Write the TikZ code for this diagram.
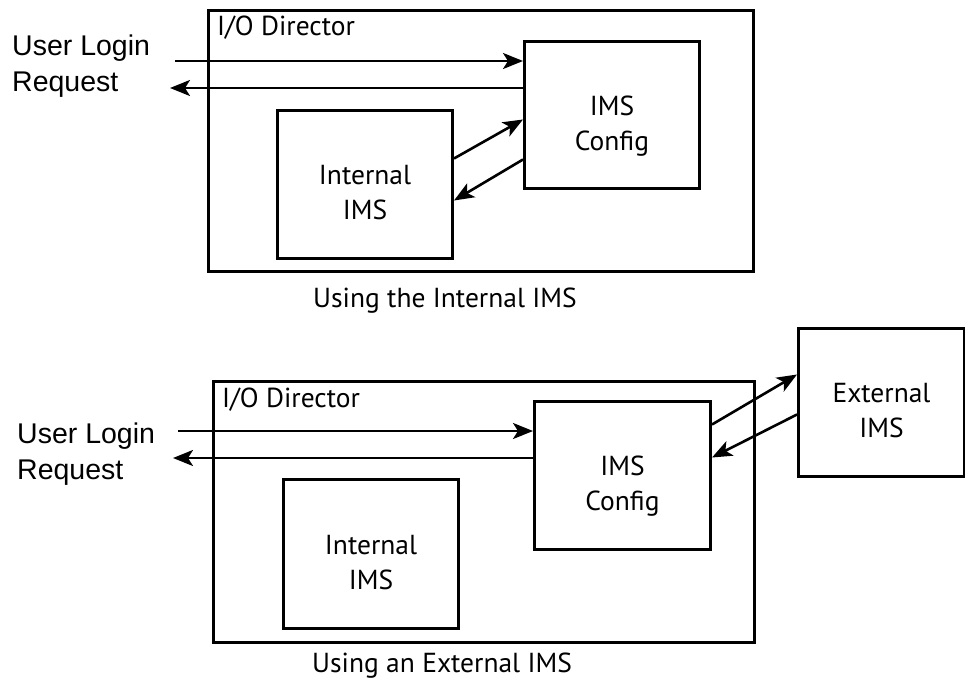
\documentclass[tikz,border=0pt]{standalone}
\usepackage{fontspec}
\setmainfont{PT Sans}
\newfontfamily\arialfont{Liberation Sans}
\usetikzlibrary{arrows.meta}

\begin{document}
\begin{tikzpicture}[x=1pt,y=-1pt,
  box/.style={draw, line width=3pt, rectangle, inner sep=0pt, anchor=north west,
    align=center, text height=80pt, text depth=10pt,
    font=\fontsize{27.5}{35}\selectfont},
  arr/.style={line width=2.6pt, -{Stealth[length=20pt,width=16pt,inset=5pt]}},
  lbl/.style={inner sep=0pt, anchor=base west, font=\fontsize{27.5}{35}\selectfont},
  userlbl/.style={inner sep=0pt, anchor=north west, align=left,
    font=\arialfont\fontsize{28.5}{36}\selectfont}]

\useasboundingbox (0,0) rectangle (965,680);

% ---- internal IMS setup ----
\node[box, minimum width=545pt, minimum height=261pt] (dirA) at (207,9) {};
\node[box, minimum width=175pt, minimum height=147pt] (cfgA) at (523,40) {IMS\\Config};
\node[box, minimum width=175pt, minimum height=148pt] (intA) at (276,109) {Internal\\IMS};
\node[lbl] (dirAlbl) at (217,35) {I/O Director};
\node[userlbl] (userA) at (12,35) {User Login\\Request};
\coordinate (inA) at (175,61);
\coordinate (outA) at (170,88);

\draw[arr] (inA) -- (inA -| cfgA.west);
\draw[arr] (outA -| cfgA.west) -- (outA);
\draw[arr] ([yshift=26pt]intA.east) -- ([yshift=-4.5pt]cfgA.west);
\draw[arr] ([yshift=-44.5pt]cfgA.west) -- ([yshift=-16pt]intA.east);

\node[lbl] (capA) at (313,307) {Using the Internal IMS};

% ---- external IMS setup ----
\node[box, minimum width=541pt, minimum height=261pt] (dirB) at (212,380) {};
\node[box, minimum width=176pt, minimum height=148pt] (cfgB) at (533,400) {IMS\\Config};
\node[box, minimum width=175pt, minimum height=149pt] (intB) at (282,478) {Internal\\IMS};
\node[box, minimum width=166pt, minimum height=148pt] (extB) at (797,327) {External\\IMS};
\node[lbl] (dirBlbl) at (222,407) {I/O Director};
\node[userlbl] (userB) at (17,423) {User Login\\Request};
\coordinate (inB) at (178,431);
\coordinate (outB) at (173,458);

\draw[arr] (inB) -- (inB -| cfgB.west);
\draw[arr] (outB -| cfgB.west) -- (outB);
\draw[arr] ([yshift=51pt]cfgB.east) -- ([yshift=28pt]extB.west);
\draw[arr] ([yshift=-12pt]extB.west) -- ([yshift=18pt]cfgB.east);

\node[lbl] (capB) at (312,672) {Using an External IMS};
\end{tikzpicture}
\end{document}
